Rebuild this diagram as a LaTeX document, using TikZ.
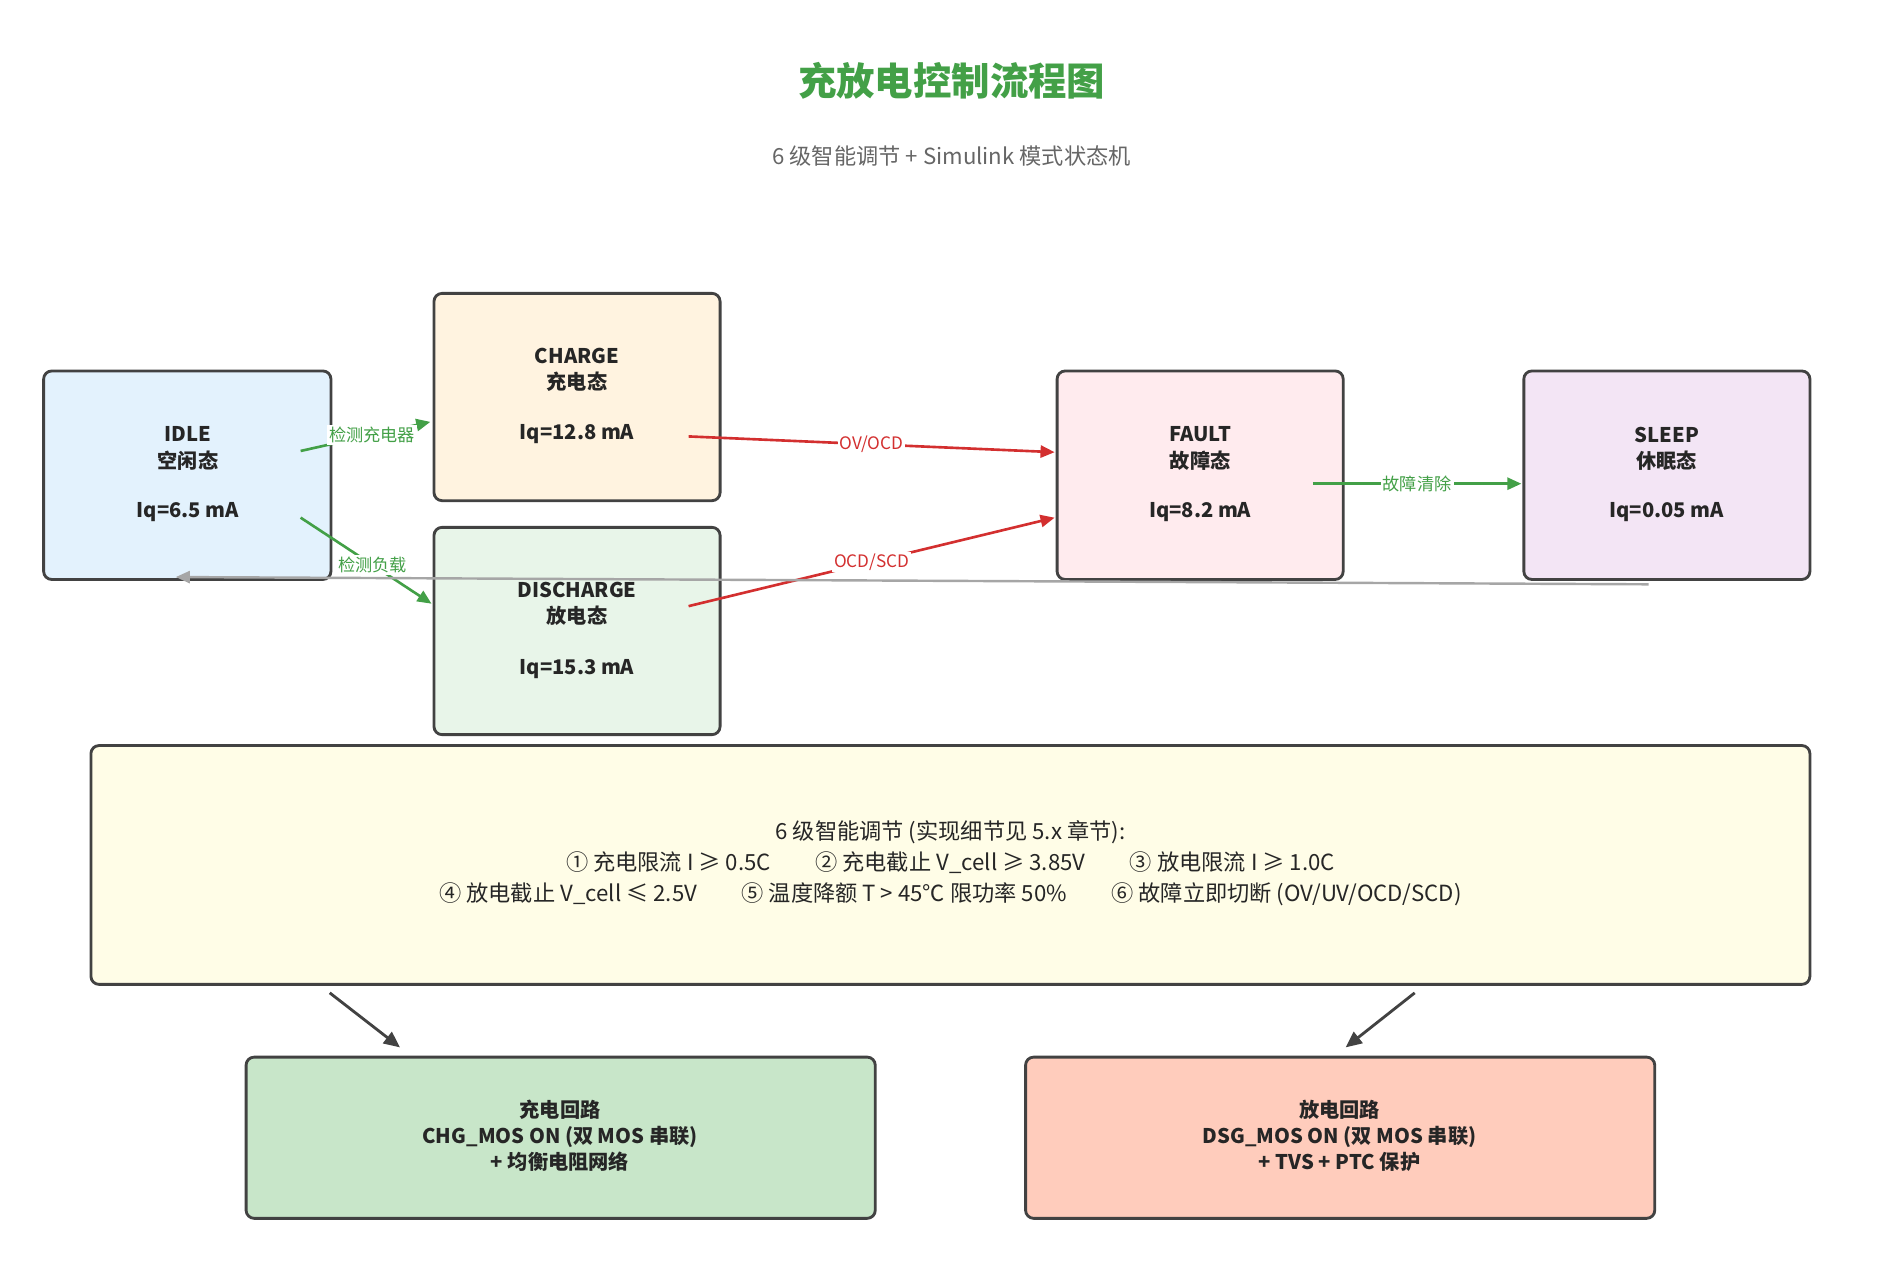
\documentclass[tikz,border=0pt]{standalone}
\usepackage{fontspec}
\setmainfont{Noto Sans CJK SC}
\usetikzlibrary{arrows.meta}
\definecolor{gtxt}{HTML}{43A047}
\definecolor{rline}{HTML}{D32F2F}
\definecolor{bd}{HTML}{424242}
\begin{document}
\begin{tikzpicture}[x=0.6pt,y=-0.6pt,
  box/.style={draw=bd,line width=1.4pt,rounded corners=4pt},
  bt/.style={font=\bfseries\fontsize{10}{13}\selectfont,text=black!85,align=center},
  lab/.style={font=\fontsize{8.5}{10}\selectfont,fill=white,inner sep=1pt},
  ga/.style={draw=gtxt,line width=1.3pt,-{Triangle[length=7pt,width=6pt]}},
  ra/.style={draw=rline,line width=1.3pt,-{Triangle[length=7pt,width=6pt]}}]
\useasboundingbox (0,0) rectangle (1550,1043);
\node[font=\bfseries\fontsize{19}{22}\selectfont,text=gtxt] (title) at (785,67) {充放电控制流程图};
\node[font=\fontsize{11}{13}\selectfont,text=black!60] (sub) at (785,129) {6 级智能调节 + Simulink 模式状态机};
% boxes
\draw[box,fill={rgb,255:red,227;green,242;blue,253}] (36,306) rectangle (273,478);
\draw[box,fill={rgb,255:red,255;green,243;blue,224}] (358,242) rectangle (594,413);
\draw[box,fill={rgb,255:red,232;green,245;blue,233}] (358,435) rectangle (594,606);
\draw[box,fill={rgb,255:red,255;green,235;blue,238}] (872,306) rectangle (1108,478);
\draw[box,fill={rgb,255:red,243;green,229;blue,245}] (1257,306) rectangle (1493,478);
\draw[box,fill={rgb,255:red,255;green,253;blue,231}] (75,615) rectangle (1493,812);
\draw[box,fill={rgb,255:red,200;green,230;blue,201}] (203,872) rectangle (722,1005);
\draw[box,fill={rgb,255:red,255;green,204;blue,188}] (846,872) rectangle (1365,1005);
% box texts
\node[bt] (idle) at (155,370) {IDLE\\空闲态};
\node[bt] (idleq) at (155,422) {Iq=6.5 mA};
\node[bt] (chg) at (476,305) {CHARGE\\充电态};
\node[bt] (chgq) at (476,358) {Iq=12.8 mA};
\node[bt] (dsg) at (476,498) {DISCHARGE\\放电态};
\node[bt] (dsgq) at (476,552) {Iq=15.3 mA};
\node[bt] (flt) at (990,370) {FAULT\\故障态};
\node[bt] (fltq) at (990,422) {Iq=8.2 mA};
\node[bt] (slp) at (1375,370) {SLEEP\\休眠态};
\node[bt] (slpq) at (1375,422) {Iq=0.05 mA};
\node[font=\fontsize{11}{15.5}\selectfont,text=black!85,align=center] (rules) at (784,712)
 {6 级智能调节 (实现细节见 5.x 章节):\\
  ① 充电限流 I ≥ 0.5C\hspace{2em}② 充电截止 V\_cell ≥ 3.85V\hspace{2em}③ 放电限流 I ≥ 1.0C\\
  ④ 放电截止 V\_cell ≤ 2.5V\hspace{2em}⑤ 温度降额 T > 45℃ 限功率 50\%\hspace{2em}⑥ 故障立即切断 (OV/UV/OCD/SCD)};
\node[bt] (cl) at (462,937) {充电回路\\CHG\_MOS ON (双 MOS 串联)\\+ 均衡电阻网络};
\node[bt] (dl) at (1105,937) {放电回路\\DSG\_MOS ON (双 MOS 串联)\\+ TVS + PTC 保护};
% connector ends
\coordinate (a1) at (248,372); \coordinate (a2) at (355,348);
\coordinate (b1) at (248,427); \coordinate (b2) at (356,498);
\coordinate (c1) at (568,360); \coordinate (c2) at (870,373);
\coordinate (d1) at (568,500); \coordinate (d2) at (870,427);
\coordinate (e1) at (1083,399); \coordinate (e2) at (1255,399);
\coordinate (f1) at (1360,482); \coordinate (f2) at (145,476);
\coordinate (g1) at (272,819); \coordinate (g2) at (330,864);
\coordinate (h1) at (1167,819); \coordinate (h2) at (1110,864);
\draw[ga] (a1) -- node[lab,text=gtxt,pos=0.55]{检测充电器} (a2);
\draw[ga] (b1) -- node[lab,text=gtxt,pos=0.55]{检测负载} (b2);
\draw[ra] (c1) -- node[lab,text=rline]{OV/OCD} (c2);
\draw[ra] (d1) -- node[lab,text=rline]{OCD/SCD} (d2);
\draw[ga] (e1) -- node[lab,text=gtxt]{故障清除} (e2);
\draw[draw=black!35,line width=1.2pt,-{Triangle[length=7pt,width=6pt]}] (f1) -- (f2);
\draw[draw=bd,line width=1.4pt,-{Triangle[length=8pt,width=7pt]}] (g1) -- (g2);
\draw[draw=bd,line width=1.4pt,-{Triangle[length=8pt,width=7pt]}] (h1) -- (h2);
\end{tikzpicture}
\end{document}
